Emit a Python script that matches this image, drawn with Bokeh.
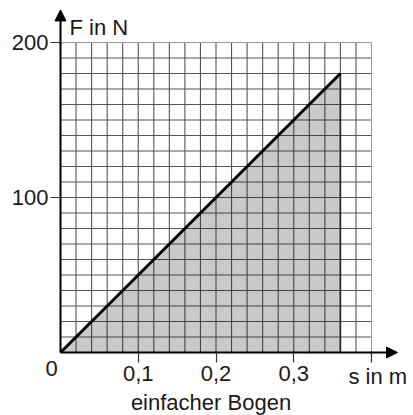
from bokeh.plotting import figure
from bokeh.models import Range1d, FixedTicker, Label, Arrow, NormalHead, ColumnDataSource
from bokeh.embed import file_html
from bokeh.resources import INLINE

# ---- data ----
s_values = [0.0, 0.36]          # s in m
F_values = [0.0, 180.0]         # F in N
x_ticks = [0.1, 0.2, 0.3, 0.4]
x_tick_labels = ["0,1", "0,2", "0,3", ""]
y_ticks = [100, 200]
y_tick_labels = ["100", "200"]
x_grid = [round(0.02 * i, 2) for i in range(1, 20)]
y_grid = [10 * i for i in range(1, 20)]
x_max, y_max = 0.4, 200
x_arrow_end, y_arrow_end = 0.4334, 221

FONT = "Liberation Sans"
TXT = "#1a1a1a"
W, H = 413, 415
# pixel layout of the data frame inside the canvas
PX_LEFT, PX_RIGHT, PX_TOP, PX_BOTTOM = 60, 371, 42, 352
sx = (PX_RIGHT - PX_LEFT) / x_max
sy = (PX_BOTTOM - PX_TOP) / y_max
x0 = -PX_LEFT / sx
y1 = y_max + PX_TOP / sy

p = figure(width=W, height=H, output_backend="svg", toolbar_location=None, title=None,
           x_range=Range1d(x0, x0 + W / sx), y_range=Range1d(y1 - H / sy, y1),
           min_border=0)
p.background_fill_color = "white"
p.border_fill_color = "white"
p.outline_line_color = None
p.xgrid.visible = False
p.ygrid.visible = False

# grid (interior lines dark, border lines lighter)
p.segment(x0=x_grid, y0=[0] * len(x_grid), x1=x_grid, y1=[y_max] * len(x_grid),
          line_color="#555555", line_width=1.1)
p.segment(x0=[0] * len(y_grid), y0=y_grid, x1=[x_max] * len(y_grid), y1=y_grid,
          line_color="#555555", line_width=1.1)
p.segment(x0=[x_max, 0], y0=[0, y_max], x1=[x_max, x_max], y1=[y_max, y_max],
          line_color="#9a9a9a", line_width=1)

# shaded area (work) and line
src = ColumnDataSource(dict(s=s_values, F=F_values, base=[0, 0]))
p.varea(x="s", y1="base", y2="F", source=src, fill_color="black", fill_alpha=0.21)
p.segment(x0=[s_values[-1]], y0=[0], x1=[s_values[-1]], y1=[F_values[-1]],
          line_color="#222222", line_width=1.6)
p.line(x="s", y="F", source=src, line_color="black", line_width=3)

# axes, placed at the origin
for ax in (p.xaxis, p.yaxis):
    ax.fixed_location = 0
    ax.axis_line_color = "black"
    ax.axis_line_width = 2
    ax.major_tick_line_color = "#333333"
    ax.major_tick_line_width = 1.2
    ax.major_tick_out = 10
    ax.major_tick_in = 0
    ax.minor_tick_line_color = None
    ax.major_label_text_font = FONT
    ax.major_label_text_font_size = "22px"
    ax.major_label_text_color = TXT

p.xaxis.bounds = (0, x_max)
p.xaxis.ticker = FixedTicker(ticks=x_ticks)
p.xaxis.major_label_overrides = {t: l for t, l in zip(x_ticks, x_tick_labels)}
p.xaxis.major_label_standoff = 3
p.yaxis.bounds = (0, y_max)
p.yaxis.ticker = FixedTicker(ticks=y_ticks)
p.yaxis.major_label_overrides = {t: l for t, l in zip(y_ticks, y_tick_labels)}
p.yaxis.major_label_standoff = 2

# axis arrows
p.add_layout(Arrow(x_start=0, y_start=y_max - 1, x_end=0, y_end=y_arrow_end,
                   line_color="black", line_width=2,
                   end=NormalHead(size=11, fill_color="black", line_color="black")))
p.add_layout(Arrow(x_start=x_max - 0.002, y_start=0, x_end=x_arrow_end, y_end=0,
                   line_color="black", line_width=2,
                   end=NormalHead(size=11, fill_color="black", line_color="black")))

# labels
def lab(x, y, text, xo, yo, align="left", baseline="alphabetic"):
    p.add_layout(Label(x=x, y=y, text=text, x_offset=xo, y_offset=yo,
                       text_font=FONT, text_font_size="22px", text_color=TXT,
                       text_align=align, text_baseline=baseline))

lab(0, y_max, "F in N", 9, 15)
lab(x_max, 0, "s in m", -23, -24)
lab(0, 0, "0", -9, -16, align="center", baseline="middle")
lab(0.2, 0, "einfacher Bogen", -5, -50, align="center")

open("out.html", "w").write(file_html(p, INLINE))
